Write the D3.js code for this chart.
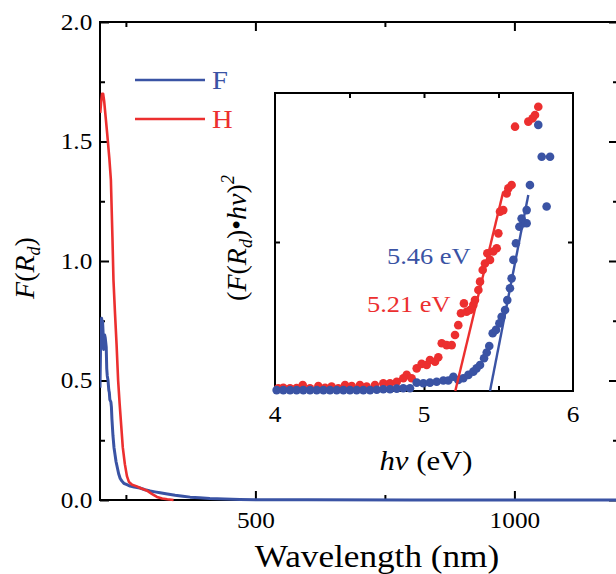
<!DOCTYPE html>
<html>
<head>
<meta charset="utf-8">
<script src="https://cdn.jsdelivr.net/npm/d3@7"></script>
<style>
  body { margin: 0; background: #fff; }
  svg { display: block; font-family: "Liberation Serif", "Times New Roman", serif; }
  .tick line { stroke: #000; stroke-width: 2; }
  .domain { display: none; }
</style>
</head>
<body>
<div id="chart"></div>
<script>
// Main plot data: wavelength (nm) vs F(Rd)
const seriesF = [
  [200, 0.47], [201, 0.62], [202, 0.71], [203, 0.76], [204, 0.75], [205, 0.745],
  [206, 0.70], [207, 0.63], [208, 0.64], [209, 0.69], [210, 0.68], [211, 0.66],
  [212, 0.64], [213, 0.55], [214, 0.52], [215.5, 0.50], [217, 0.46], [218, 0.45],
  [219, 0.42], [221, 0.41], [222, 0.39], [223, 0.34], [225, 0.27], [227, 0.22],
  [229, 0.19], [231, 0.16], [233, 0.14], [236, 0.11], [239, 0.09], [242, 0.08],
  [246, 0.07], [252, 0.064], [258, 0.058], [266, 0.054], [277, 0.05], [287, 0.043],
  [297, 0.038], [306, 0.034], [316, 0.03], [330, 0.025], [345, 0.02], [360, 0.016],
  [374, 0.012], [392, 0.009], [412, 0.006], [440, 0.004], [470, 0.002], [520, 0.001],
  [600, 0.001], [800, 0.0], [1000, 0.0], [1200, 0.0]
];
const seriesH = [
  [200.5, 1.62], [202, 1.66], [204, 1.70], [206, 1.70], [208, 1.67], [211, 1.60],
  [214, 1.53], [218, 1.43], [221, 1.34], [224, 1.10], [226, 0.92], [229, 0.78],
  [232, 0.65], [235, 0.50], [238, 0.40], [241, 0.31], [244, 0.22], [248, 0.15],
  [252, 0.10], [256, 0.075], [262, 0.064], [270, 0.058], [280, 0.048], [290, 0.040],
  [300, 0.026], [310, 0.013], [320, 0.006], [330, 0.003], [342, 0.0]
];
const xMajor = [500, 1000];
const xMinor = [250, 750];
const yMajor = [0, 0.5, 1.0, 1.5, 2.0];
const yMinor = [0.25, 0.75, 1.25, 1.75];

// Inset data: photon energy (eV) vs (F(Rd)*hv)^2, arbitrary units
const insetH = [
  [4.022, 0.009], [4.056, 0.011], [4.101, 0.009], [4.145, 0.010], [4.186, 0.020],
  [4.235, 0.009], [4.291, 0.017], [4.336, 0.011], [4.380, 0.015], [4.425, 0.009],
  [4.470, 0.020], [4.515, 0.017], [4.570, 0.020], [4.615, 0.015], [4.671, 0.020],
  [4.727, 0.026], [4.772, 0.026], [4.817, 0.031], [4.861, 0.043], [4.884, 0.054],
  [4.917, 0.043], [4.951, 0.076], [4.984, 0.091], [5.018, 0.087], [5.040, 0.104],
  [5.074, 0.098], [5.096, 0.113], [5.119, 0.160], [5.152, 0.154], [5.186, 0.154],
  [5.208, 0.188], [5.230, 0.221], [5.248, 0.261], [5.268, 0.294], [5.286, 0.266],
  [5.309, 0.272], [5.331, 0.289], [5.342, 0.305], [5.365, 0.339], [5.376, 0.367],
  [5.394, 0.406], [5.409, 0.428], [5.425, 0.462], [5.443, 0.440], [5.465, 0.468],
  [5.488, 0.479], [5.499, 0.529], [5.510, 0.602], [5.532, 0.607], [5.555, 0.663],
  [5.566, 0.680], [5.588, 0.691], [5.611, 0.887], [5.700, 0.904], [5.729, 0.915],
  [5.745, 0.926], [5.767, 0.954]
];
const insetF = [
  [4.011, 0.003], [4.056, 0.003], [4.101, 0.003], [4.145, 0.003], [4.190, 0.003],
  [4.235, 0.003], [4.280, 0.003], [4.325, 0.003], [4.369, 0.003], [4.414, 0.003],
  [4.459, 0.003], [4.503, 0.003], [4.548, 0.003], [4.593, 0.003], [4.638, 0.003],
  [4.683, 0.004], [4.727, 0.006], [4.772, 0.006], [4.817, 0.008], [4.861, 0.009],
  [4.906, 0.009], [4.951, 0.028], [4.996, 0.026], [5.040, 0.028], [5.085, 0.031],
  [5.130, 0.035], [5.163, 0.035], [5.197, 0.048], [5.230, 0.037], [5.264, 0.043],
  [5.298, 0.054], [5.331, 0.065], [5.353, 0.076], [5.376, 0.087], [5.403, 0.110],
  [5.421, 0.129], [5.438, 0.151], [5.461, 0.194], [5.483, 0.205], [5.506, 0.227],
  [5.521, 0.249], [5.544, 0.272], [5.559, 0.305], [5.577, 0.345], [5.588, 0.378],
  [5.600, 0.440], [5.617, 0.496], [5.640, 0.551], [5.667, 0.563], [5.689, 0.563],
  [5.655, 0.579], [5.689, 0.607], [5.711, 0.691], [5.767, 0.893], [5.790, 0.786],
  [5.846, 0.786], [5.823, 0.619]
];
// Linear fits (Tauc extrapolation)
const fitH = [[5.21, 0.0], [5.532, 0.669]];
const fitF = [[5.443, 0.0], [5.70, 0.658]];
const insetXTicks = [4, 5, 6];
const insetXMinor = [4.5, 5, 5.5];
const insetYTicks = [0.5];

const blue = "#3a53a4";
const red = "#ec2f2f";
const stretch = 1.1; // source figure is a little wider than tall

const width = 616;
const height = 574;

const svg = d3.select("#chart")
  .append("svg")
  .attr("width", width)
  .attr("height", height);

// helper: horizontal text, slightly widened like the source
function label(px, py, anchor, size, color) {
  return svg.append("g")
    .attr("transform", `translate(${px},${py}) scale(${stretch},1)`)
    .append("text")
    .attr("text-anchor", anchor)
    .style("font-size", size + "px")
    .attr("fill", color || "#000");
}

// ---------- main plot ----------
const mLeft = 100, mRight = 618, mTop = 22, mBottom = 500;
const x = d3.scaleLinear().domain([200, 1200]).range([mLeft, mRight]);
const y = d3.scaleLinear().domain([0, 2]).range([mBottom, mTop]);

svg.append("clipPath").attr("id", "clip")
  .append("rect").attr("x", mLeft).attr("y", mTop - 2)
  .attr("width", mRight - mLeft).attr("height", mBottom - mTop + 4);

// ticks (inward)
function ticks(axis, tr, vals, len, labelled) {
  const g = svg.append("g").attr("transform", tr)
    .call(axis.tickValues(vals).tickSize(-len).tickSizeOuter(0)
      .tickPadding(12).tickFormat(labelled ? labelled : () => ""))
    .attr("font-family", null);
  g.selectAll("text")
    .style("font-size", "23px")
    .attr("fill", "#000")
    .attr("transform", `scale(${stretch},1)`);
  return g;
}
ticks(d3.axisBottom(x), `translate(0,${mBottom})`, xMajor, 9, d3.format("d"));
ticks(d3.axisBottom(x), `translate(0,${mBottom})`, xMinor, 5);
ticks(d3.axisTop(x), `translate(0,${mTop})`, xMajor, 9);
ticks(d3.axisTop(x), `translate(0,${mTop})`, xMinor, 5);
ticks(d3.axisLeft(y), `translate(${mLeft},0)`, yMajor, 9, d3.format(".1f"))
  .selectAll("text").attr("x", -7);
ticks(d3.axisLeft(y), `translate(${mLeft},0)`, yMinor, 5);
ticks(d3.axisRight(y), `translate(${mRight},0)`, yMajor, 9);
ticks(d3.axisRight(y), `translate(${mRight},0)`, yMinor, 5);

// frame
svg.append("rect")
  .attr("x", mLeft).attr("y", mTop)
  .attr("width", mRight - mLeft).attr("height", mBottom - mTop)
  .attr("fill", "none").attr("stroke", "#000").attr("stroke-width", 2);

const line = d3.line().x(d => x(d[0])).y(d => y(d[1]));
const curves = svg.append("g").attr("clip-path", "url(#clip)");
curves.append("path").datum(seriesF)
  .attr("d", line).attr("fill", "none")
  .attr("stroke", blue).attr("stroke-width", 3).attr("stroke-linejoin", "round");
curves.append("path").datum(seriesH)
  .attr("d", line).attr("fill", "none")
  .attr("stroke", red).attr("stroke-width", 2.6).attr("stroke-linejoin", "round");

// legend
const legend = [{ name: "F", color: blue, y: 80 }, { name: "H", color: red, y: 119 }];
legend.forEach(d => {
  svg.append("line")
    .attr("x1", 135).attr("x2", 205).attr("y1", d.y).attr("y2", d.y)
    .attr("stroke", d.color).attr("stroke-width", 2.6);
  label(212, d.y + 9, "start", 26, d.color).text(d.name);
});

// axis titles
label(377, 567, "middle", 32).text("Wavelength (nm)");

const yTitle = svg.append("text")
  .attr("transform", "translate(34,268) rotate(-90)")
  .attr("text-anchor", "middle")
  .style("font-size", "28px");
yTitle.append("tspan").style("font-style", "italic").text("F");
yTitle.append("tspan").text("(");
yTitle.append("tspan").style("font-style", "italic").text("R");
yTitle.append("tspan").style("font-style", "italic").style("font-size", "18px")
  .attr("dy", 6).text("d");
yTitle.append("tspan").attr("dy", -6).text(")");

// ---------- inset ----------
const il = 275, ir = 573, it = 93, ib = 391;
const ix = d3.scaleLinear().domain([4, 6]).range([il, ir]);
const iy = d3.scaleLinear().domain([0, 1]).range([ib, it]);

svg.append("rect")
  .attr("x", il).attr("y", it).attr("width", ir - il).attr("height", ib - it)
  .attr("fill", "#fff");

ticks(d3.axisBottom(ix), `translate(0,${ib})`, insetXMinor, 5);
ticks(d3.axisTop(ix), `translate(0,${it})`, insetXMinor, 5);
ticks(d3.axisLeft(iy), `translate(${il},0)`, insetYTicks, 5);
ticks(d3.axisRight(iy), `translate(${ir},0)`, insetYTicks, 5);

insetXTicks.forEach(v => {
  label(ix(v), ib + 31, "middle", 23).text(v);
});

svg.append("rect")
  .attr("x", il).attr("y", it).attr("width", ir - il).attr("height", ib - it)
  .attr("fill", "none").attr("stroke", "#000").attr("stroke-width", 2);

const dots = svg.append("g");
dots.selectAll("circle.h").data(insetH).join("circle")
  .attr("class", "h")
  .attr("cx", d => ix(d[0])).attr("cy", d => iy(d[1])).attr("r", 4.3)
  .attr("fill", red);
dots.selectAll("circle.f").data(insetF).join("circle")
  .attr("class", "f")
  .attr("cx", d => ix(d[0])).attr("cy", d => iy(d[1])).attr("r", 4.3)
  .attr("fill", blue);

const iline = d3.line().x(d => ix(d[0])).y(d => iy(d[1]));
svg.append("path").datum(fitH).attr("d", iline)
  .attr("stroke", red).attr("stroke-width", 2.4).attr("fill", "none");
svg.append("path").datum(fitF).attr("d", iline)
  .attr("stroke", blue).attr("stroke-width", 2.4).attr("fill", "none");

label(387, 264, "start", 24, blue).text("5.46 eV");
label(367, 312, "start", 24, red).text("5.21 eV");

const hv = label(426, 470, "middle", 28);
hv.append("tspan").style("font-style", "italic").text("hv");
hv.append("tspan").text(" (eV)");

const iTitle = svg.append("text")
  .attr("transform", "translate(246,238) rotate(-90)")
  .attr("text-anchor", "middle")
  .style("font-size", "28px");
iTitle.append("tspan").text("(");
iTitle.append("tspan").style("font-style", "italic").text("F");
iTitle.append("tspan").text("(");
iTitle.append("tspan").style("font-style", "italic").text("R");
iTitle.append("tspan").style("font-style", "italic").style("font-size", "18px")
  .attr("dy", 6).text("d");
iTitle.append("tspan").attr("dy", -6).text(")\u2022");
iTitle.append("tspan").style("font-style", "italic").text("hv");
iTitle.append("tspan").text(")");
iTitle.append("tspan").style("font-style", "italic").style("font-size", "18px")
  .attr("dy", -12).text("2");
</script>
</body>
</html>
